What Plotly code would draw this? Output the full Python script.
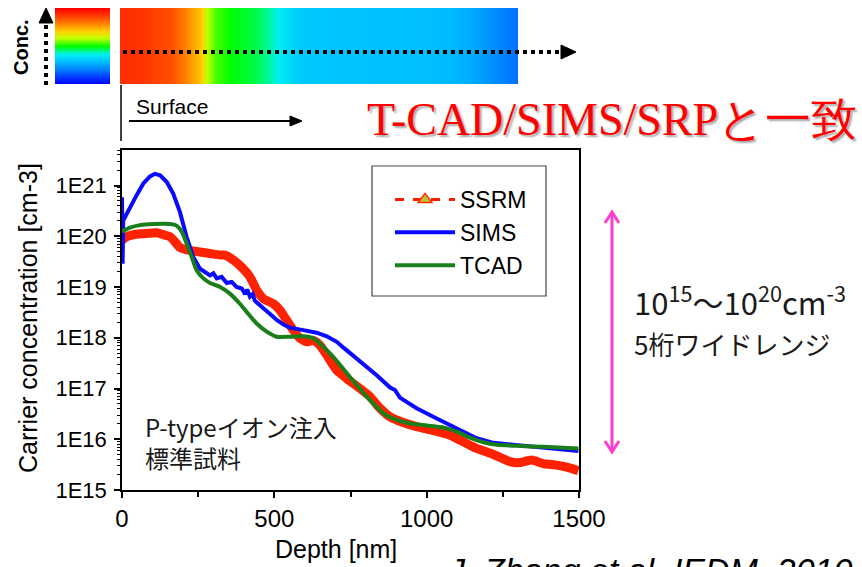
import plotly.graph_objects as go

# ---------------- data ----------------
ssrm_depth = [0, 15, 37, 70, 114, 136, 158, 174, 190, 223, 256, 289, 322, 338, 366, 398, 420, 442,
              464, 497, 519, 540, 562, 584, 606, 628, 650, 672, 705, 737, 781, 814, 847, 880, 923,
              967, 1022, 1077, 1120, 1164, 1219, 1273, 1306, 1345, 1383, 1427, 1460, 1498]
ssrm_log = [19.92, 19.99, 20.03, 20.05, 20.07, 20.03, 19.99, 19.89, 19.78, 19.72, 19.69, 19.66, 19.63,
            19.63, 19.53, 19.36, 19.20, 18.94, 18.77, 18.67, 18.54, 18.35, 18.15, 17.99, 17.92, 17.95,
            17.85, 17.66, 17.36, 17.20, 17.00, 16.84, 16.61, 16.44, 16.33, 16.25, 16.17, 16.08, 15.95,
            15.82, 15.70, 15.56, 15.54, 15.59, 15.52, 15.49, 15.45, 15.38]

sims_depth = [0, 2, 4, 26, 48, 70, 92, 108, 125, 147, 168, 190, 212, 234, 256, 289, 300, 311, 327,
              344, 360, 376, 393, 404, 411, 420, 429, 436, 447, 464, 486, 508, 530, 551, 595, 639,
              672, 705, 726, 781, 836, 880, 896, 912, 967, 1033, 1098, 1164, 1219, 1273, 1339,
              1405, 1498]
sims_log = [20.77, 19.46, 20.31, 20.58, 20.81, 21.04, 21.18, 21.23, 21.20, 21.07, 20.84, 20.48, 19.99,
            19.59, 19.36, 19.23, 19.27, 19.17, 19.20, 19.08, 19.10, 19.00, 18.97, 18.86, 18.95, 18.81,
            18.86, 18.73, 18.68, 18.58, 18.47, 18.35, 18.26, 18.20, 18.15, 18.10, 18.03, 17.92, 17.81,
            17.54, 17.26, 17.02, 16.97, 16.82, 16.61, 16.41, 16.21, 16.02, 15.93, 15.90, 15.87, 15.82,
            15.77]

tcad_depth = [0, 26, 59, 103, 158, 179, 196, 212, 229, 245, 267, 289, 322, 354, 387, 409, 442, 475,
              508, 551, 595, 628, 661, 694, 726, 770, 814, 858, 902, 945, 1000, 1055, 1098, 1142,
              1186, 1230, 1295, 1383, 1498]
tcad_log = [20.09, 20.17, 20.22, 20.24, 20.24, 20.21, 20.09, 19.86, 19.59, 19.33, 19.17, 19.08, 19.00,
            18.87, 18.67, 18.51, 18.28, 18.12, 18.02, 18.02, 18.03, 17.99, 17.82, 17.62, 17.39, 17.07,
            16.77, 16.51, 16.38, 16.31, 16.27, 16.23, 16.15, 16.03, 15.94, 15.89, 15.87, 15.85, 15.82]

x_tick_vals = [0, 500, 1000, 1500]
x_tick_text = ["0", "500", "1000", "1500"]
x_minor_vals = [250, 750, 1250]
y_tick_vals = [1e15, 1e16, 1e17, 1e18, 1e19, 1e20, 1e21]
y_tick_text = ["1E15", "1E16", "1E17", "1E18", "1E19", "1E20", "1E21"]

# decorative concentration map (colour level along the surface scan, 0=blue 1=red)
map_x = [0, 0.05, 0.10, 0.126, 0.151, 0.176, 0.201, 0.219, 0.239, 0.276, 0.339, 0.377, 0.415, 0.452,
         0.553, 0.653, 0.754, 0.829, 0.879, 0.930, 0.967, 1.0]
map_levels = [0.93, 0.92, 0.89, 0.88, 0.83, 0.77, 0.72, 0.60, 0.54, 0.50, 0.47, 0.43, 0.37, 0.32,
              0.31, 0.30, 0.30, 0.29, 0.27, 0.23, 0.20, 0.17]
bar_pos = [0, 0.1, 0.2, 0.3, 0.4, 0.5, 0.6, 0.7, 0.8, 0.9, 1.0]
bar_levels = [0, 0.1, 0.2, 0.3, 0.4, 0.5, 0.6, 0.7, 0.8, 0.9, 1.0]
jet_scale = [[0.0, "#0000ff"], [0.1, "#0040ff"], [0.2, "#0080ff"], [0.3, "#00c0ff"],
             [0.4, "#00f0f0"], [0.5, "#00ff00"], [0.6, "#c0ff00"], [0.7, "#ffd000"],
             [0.8, "#ff8000"], [0.9, "#ff4000"], [1.0, "#ff0000"]]

# ---------------- helpers ----------------
W, H = 862, 567
def px(x): return x / W
def py(y): return 1 - y / H

SANS = "Liberation Sans, Arial, sans-serif"
CJK = "Noto Sans CJK JP, Noto Sans, sans-serif"
SERIF = "Liberation Serif, Times New Roman, serif"

fig = go.Figure()

# main curves
fig.add_trace(go.Scatter(x=ssrm_depth, y=[10 ** v for v in ssrm_log], mode="lines",
                         line=dict(color="#ff2200", width=9, shape="spline", smoothing=0.5),
                         showlegend=False, name="SSRM"))
fig.add_trace(go.Scatter(x=sims_depth, y=[10 ** v for v in sims_log], mode="lines",
                         line=dict(color="#0a0aff", width=4), name="SIMS", legendrank=2))
fig.add_trace(go.Scatter(x=tcad_depth, y=[10 ** v for v in tcad_log], mode="lines",
                         line=dict(color="#1a7f1a", width=4, shape="spline", smoothing=0.6),
                         name="TCAD", legendrank=3))
# legend entry for SSRM (dashed line + triangle marker)
fig.add_trace(go.Scatter(x=[None], y=[None], mode="lines+markers", name="SSRM", legendrank=1,
                         line=dict(color="#ff1a00", width=3, dash="dash"),
                         marker=dict(symbol="triangle-up", size=12, color="#b9c43c",
                                     line=dict(color="#ff3000", width=1.5))))

# decorative maps
fig.add_trace(go.Heatmap(x=map_x, y=[0, 1], z=[map_levels, map_levels], colorscale=jet_scale,
                         zmin=0, zmax=1, zsmooth="best", showscale=False, hoverinfo="skip",
                         xaxis="x2", yaxis="y2"))
fig.add_trace(go.Heatmap(x=[0, 1], y=bar_pos, z=[[l, l] for l in bar_levels], colorscale=jet_scale,
                         zmin=0, zmax=1, zsmooth="best", showscale=False, hoverinfo="skip",
                         xaxis="x3", yaxis="y3"))

axis_common = dict(showgrid=False, zeroline=False, linecolor="black", linewidth=1.5, mirror=True,
                   ticks="outside", tickcolor="black", tickwidth=1.5, ticklen=6)

fig.update_layout(
    width=W, height=H, margin=dict(l=0, r=0, t=0, b=0),
    paper_bgcolor="white", plot_bgcolor="white",
    xaxis=dict(domain=[px(122), px(579)], range=[0, 1500], tickmode="array",
               tickvals=x_tick_vals, ticktext=x_tick_text,
               tickfont=dict(family=SANS, size=24, color="black"),
               minor=dict(tickmode="array", tickvals=x_minor_vals, ticks="outside", ticklen=5,
                          tickcolor="black", tickwidth=1.5),
               automargin=False, **axis_common),
    yaxis=dict(domain=[py(490), py(150)], type="log", range=[15, 21.7], tickmode="array",
               tickvals=y_tick_vals, ticktext=y_tick_text, ticklabelstandoff=3,
               tickfont=dict(family=SANS, size=22, color="black"),
               minor=dict(ticks="outside", ticklen=3, tickcolor="black", tickwidth=1, dtick="D1"),
               automargin=False, **axis_common),
    xaxis2=dict(domain=[px(120), px(518)], range=[0, 1], visible=False, anchor="y2", fixedrange=True),
    yaxis2=dict(domain=[py(84), py(8)], range=[0, 1], visible=False, anchor="x2", fixedrange=True),
    xaxis3=dict(domain=[px(55), px(110)], range=[0, 1], visible=False, anchor="y3", fixedrange=True),
    yaxis3=dict(domain=[py(84), py(8)], range=[0, 1], visible=False, anchor="x3", fixedrange=True),
    legend=dict(x=px(390), y=py(178), xanchor="left", yanchor="top", bgcolor="rgba(0,0,0,0)",
                borderwidth=0, font=dict(family=SANS, size=23, color="black"),
                itemwidth=60, tracegroupgap=0),
    showlegend=True,
)

shapes = [
    # legend frame
    dict(type="rect", xref="paper", yref="paper", x0=px(372), x1=px(546), y0=py(296), y1=py(166),
         line=dict(color="#444", width=1.2), fillcolor="rgba(0,0,0,0)"),
    # dotted arrow across the map
    dict(type="line", xref="paper", yref="paper", x0=px(123), x1=px(562), y0=py(52), y1=py(52),
         line=dict(color="black", width=4, dash="4px,4px")),
    dict(type="path", xref="paper", yref="paper",
         path=f"M {px(561)},{py(45)} L {px(576)},{py(52)} L {px(561)},{py(59)} Z",
         fillcolor="black", line=dict(color="black", width=1)),
    # vertical dotted arrow next to the colour bar
    dict(type="line", xref="paper", yref="paper", x0=px(46), x1=px(46), y0=py(85), y1=py(22),
         line=dict(color="black", width=4, dash="4px,4px")),
    dict(type="path", xref="paper", yref="paper",
         path=f"M {px(39)},{py(23)} L {px(46)},{py(8)} L {px(53)},{py(23)} Z",
         fillcolor="black", line=dict(color="black", width=1)),
    # surface marker line
    dict(type="line", xref="paper", yref="paper", x0=px(121), x1=px(121), y0=py(85), y1=py(141),
         line=dict(color="black", width=1.5)),
    # surface arrow
    dict(type="line", xref="paper", yref="paper", x0=px(129), x1=px(292), y0=py(121), y1=py(121),
         line=dict(color="black", width=2)),
    dict(type="path", xref="paper", yref="paper",
         path=f"M {px(290)},{py(116)} L {px(302)},{py(121)} L {px(290)},{py(126)} Z",
         fillcolor="black", line=dict(color="black", width=1)),
    # magenta double arrow
    dict(type="line", xref="paper", yref="paper", x0=px(612), x1=px(612), y0=py(212), y1=py(452),
         line=dict(color="#ff3dd0", width=3)),
    dict(type="path", xref="paper", yref="paper",
         path=f"M {px(605)},{py(223)} L {px(612)},{py(212)} L {px(619)},{py(223)}",
         line=dict(color="#ff3dd0", width=3)),
    dict(type="path", xref="paper", yref="paper",
         path=f"M {px(605)},{py(441)} L {px(612)},{py(452)} L {px(619)},{py(441)}",
         line=dict(color="#ff3dd0", width=3)),
]
fig.update_layout(shapes=shapes)

ann = [
    dict(text="T-CAD/SIMS/SRPと一致", x=px(612), y=py(119),
         font=dict(family=SERIF, size=46, color="#ff0000", shadow="2px 2px 2px rgba(80,80,80,0.5)")),
    dict(text="Surface", x=px(134), y=py(106), xanchor="left", font=dict(family=SANS, size=21, color="black")),
    dict(text="<b>Conc.</b>", x=px(21), y=py(47), textangle=-90, font=dict(family=SANS, size=20, color="black")),
    dict(text="Carrier concentration [cm-3]", x=px(28), y=py(318), textangle=-90,
         font=dict(family=SANS, size=25, color="black")),
    dict(text="Depth [nm]", x=px(336), y=py(549), font=dict(family=SANS, size=25, color="black")),
    dict(text="P-typeイオン注入<br>標準試料", x=px(143), y=py(442), xanchor="left", align="left",
         font=dict(family=CJK, size=24, color="#1a1a1a")),
    dict(text="10<sup>15</sup>～10<sup>20</sup>cm<sup>-3</sup>", x=px(632), y=py(300), xanchor="left",
         font=dict(family=CJK, size=31, color="#1a1a1a")),
    dict(text="5桁ワイドレンジ", x=px(632), y=py(343), xanchor="left", font=dict(family=CJK, size=26, color="#1a1a1a")),
    dict(text="<i>J. Zhang et al. IEDM, 2010</i>", x=px(445), y=py(549), xanchor="left", yanchor="top",
         font=dict(family=SANS, size=34, color="black")),
]
for a in ann:
    a.setdefault("xref", "paper")
    a.setdefault("yref", "paper")
    a.setdefault("xanchor", "center")
    a.setdefault("yanchor", "middle")
    a.setdefault("showarrow", False)
fig.update_layout(annotations=ann)

fig.write_html("out.html")
